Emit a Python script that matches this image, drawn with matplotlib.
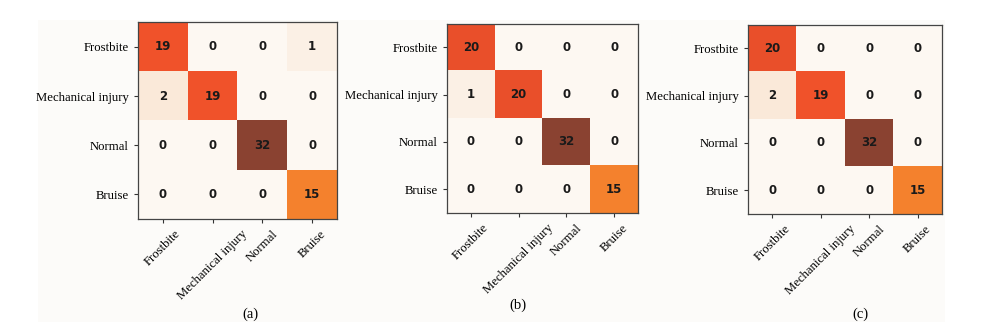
import numpy as np
import matplotlib
matplotlib.use("Agg")
import matplotlib.pyplot as plt
from matplotlib.colors import LinearSegmentedColormap
from matplotlib.patches import Rectangle

classes = ["Frostbite", "Mechanical injury", "Normal", "Bruise"]

cm_a = np.array([[19, 0, 0, 1],
                 [2, 19, 0, 0],
                 [0, 0, 32, 0],
                 [0, 0, 0, 15]])
cm_b = np.array([[20, 0, 0, 0],
                 [1, 20, 0, 0],
                 [0, 0, 32, 0],
                 [0, 0, 0, 15]])
cm_c = np.array([[20, 0, 0, 0],
                 [2, 19, 0, 0],
                 [0, 0, 32, 0],
                 [0, 0, 0, 15]])
panel_labels = ["(a)", "(b)", "(c)"]

# colour map
cmap = LinearSegmentedColormap.from_list(
    "cm", [(0.0, "#fdf8f2"), (0.06, "#fbeadb"), (0.47, "#f5822e"),
           (0.6, "#f0512a"), (1.0, "#8a4231")])

fig = plt.figure(figsize=(10, 3.27), dpi=100)
fig.patches.append(Rectangle((0.038, 0.015), 0.907, 0.925, transform=fig.transFigure,
                             facecolor="#fcfbf9", edgecolor="none", zorder=-1))

axes_pos = [[0.138, 0.330, 0.199, 0.602],
            [0.447, 0.349, 0.191, 0.578],
            [0.748, 0.346, 0.194, 0.578]]
label_pos = [(0.250, 0.04), (0.518, 0.065), (0.860, 0.04)]

for cm, pos, lab, lpos in zip([cm_a, cm_b, cm_c], axes_pos, panel_labels, label_pos):
    ax = fig.add_axes(pos)
    ax.imshow(cm, cmap=cmap, vmin=0, vmax=32, aspect="auto", interpolation="nearest")
    for i in range(4):
        for j in range(4):
            ax.text(j, i, str(cm[i, j]), ha="center", va="center",
                    fontsize=8.5, color="#1a1a1a", family="DejaVu Sans",
                    fontweight="semibold")
    ax.set_xticks(range(4))
    ax.set_yticks(range(4))
    ax.set_xticklabels(classes, rotation=45, fontsize=9.2, family="Liberation Serif")
    ax.set_yticklabels(classes, fontsize=9.2, family="Liberation Serif")
    ax.tick_params(length=3, width=0.8, color="#333333")
    for s in ax.spines.values():
        s.set_color("#444444")
        s.set_linewidth(0.9)
    fig.text(lpos[0], lpos[1], lab, ha="center", va="center", fontsize=10.5,
             family="Liberation Serif")

fig.savefig("out.png", dpi=100)
